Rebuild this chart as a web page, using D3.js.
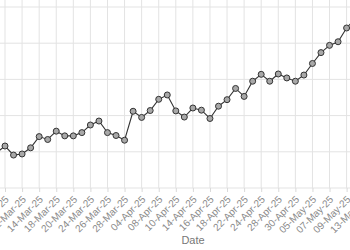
<!DOCTYPE html>
<html>
<head>
<meta charset="utf-8">
<script src="https://cdn.jsdelivr.net/npm/d3@7/dist/d3.min.js"></script>
<style>
  html, body { margin: 0; padding: 0; background: #fff; }
  svg { display: block; }
</style>
</head>
<body>
<svg id="chart" width="350" height="250"></svg>
<script>
// Data (trading dates, closing values)
const dates = [
  "07-Mar-25","10-Mar-25","11-Mar-25","12-Mar-25","13-Mar-25","14-Mar-25",
  "17-Mar-25","18-Mar-25","19-Mar-25","20-Mar-25","21-Mar-25","24-Mar-25",
  "25-Mar-25","26-Mar-25","27-Mar-25","28-Mar-25","03-Apr-25","04-Apr-25",
  "07-Apr-25","08-Apr-25","09-Apr-25","10-Apr-25","11-Apr-25","14-Apr-25",
  "15-Apr-25","16-Apr-25","17-Apr-25","18-Apr-25","21-Apr-25","22-Apr-25",
  "23-Apr-25","24-Apr-25","25-Apr-25","28-Apr-25","29-Apr-25","30-Apr-25",
  "02-May-25","05-May-25","06-May-25","07-May-25","08-May-25","09-May-25",
  "12-May-25","13-May-25"
];
const values = [
  109.7,111.6,109.1,109.4,111.1,114.2,
  113.4,115.7,114.4,114.4,115.3,117.4,
  118.5,115.3,114.5,113.2,121.2,119.5,
  121.4,124.5,125.7,121.3,119.6,122.1,
  121.5,119.2,122.6,124.4,127.5,125.3,
  129.5,131.4,129.5,131.5,130.4,129.5,
  131.2,134.4,137.4,139.4,140.4,144.2,
  146.8,145.5
];
const tickLabels = [
  "10-Mar-25","12-Mar-25","14-Mar-25","18-Mar-25","20-Mar-25","24-Mar-25",
  "26-Mar-25","28-Mar-25","04-Apr-25","08-Apr-25","10-Apr-25","14-Apr-25",
  "16-Apr-25","18-Apr-25","22-Apr-25","24-Apr-25","28-Apr-25","30-Apr-25",
  "05-May-25","07-May-25","09-May-25","13-May-25"
];
const yTicks = [100, 110, 120, 130, 140, 150];
const xTitle = "Date";

const data = dates.map((d, i) => ({ date: d, value: values[i] }));

const svg = d3.select("#chart");
const step = 8.54;
const x = d3.scalePoint()
  .domain(dates)
  .range([5 - step, 5 + step * (dates.length - 2)]);
const y = d3.scaleLinear().domain([100, 150]).range([188, 7]);
const panelBottom = y(100);

// Horizontal grid
svg.append("g")
  .selectAll("line")
  .data(yTicks)
  .join("line")
  .attr("x1", 0).attr("x2", 350)
  .attr("y1", d => y(d)).attr("y2", d => y(d))
  .attr("stroke", "#e3e3e3").attr("stroke-width", 1);

// Vertical grid
svg.append("g")
  .selectAll("line")
  .data(tickLabels)
  .join("line")
  .attr("x1", d => x(d)).attr("x2", d => x(d))
  .attr("y1", 0).attr("y2", panelBottom)
  .attr("stroke", "#e3e3e3").attr("stroke-width", 1);

// X axis
const xAxis = svg.append("g")
  .attr("transform", `translate(0,${panelBottom})`)
  .call(d3.axisBottom(x).tickValues(tickLabels).tickSize(4));
xAxis.select(".domain").remove();
xAxis.selectAll(".tick line").attr("stroke", "#d9d9d9");
xAxis.selectAll(".tick text")
  .attr("x", 0).attr("y", 0).attr("dy", 0)
  .attr("fill", "#8a8a8a")
  .style("font-family", "Liberation Sans, Arial, sans-serif")
  .style("font-size", "10px")
  .attr("text-anchor", "end")
  .attr("transform", "translate(4,12) rotate(-45)");

// Axis title
svg.append("text")
  .attr("x", 193).attr("y", 244)
  .attr("text-anchor", "middle")
  .attr("fill", "#777")
  .style("font-family", "Liberation Sans, Arial, sans-serif")
  .style("font-size", "11px")
  .text(xTitle);

// Line
svg.append("path")
  .datum(data)
  .attr("fill", "none")
  .attr("stroke", "#333")
  .attr("stroke-width", 1.1)
  .attr("d", d3.line().x(d => x(d.date)).y(d => y(d.value)));

// Points
svg.append("g")
  .selectAll("circle")
  .data(data)
  .join("circle")
  .attr("cx", d => x(d.date))
  .attr("cy", d => y(d.value))
  .attr("r", 3)
  .attr("fill", "#a8a8a8")
  .attr("stroke", "#333")
  .attr("stroke-width", 1);
</script>
</body>
</html>
